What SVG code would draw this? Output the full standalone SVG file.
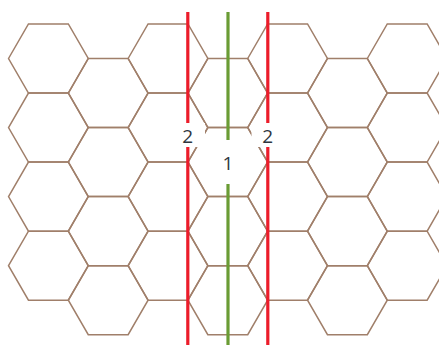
<svg xmlns="http://www.w3.org/2000/svg" xmlns:xlink="http://www.w3.org/1999/xlink" width="439" height="345" viewBox="0 0 439 345">
<style>
.hex{fill:none;stroke:#a07f6a;stroke-width:1.5;stroke-linejoin:miter}
.red{stroke:#ec1c2a;stroke-width:3.2;fill:none}
.green{stroke:#6a9c34;stroke-width:3.2;fill:none}
.halo{fill:#ffffff;stroke:none}
.lbl{font-family:"Open Sans","Noto Sans","DejaVu Sans",sans-serif;font-size:19px;fill:#2f3640;text-anchor:middle}
</style>
<defs>
<polygon id="hx" class="hex" points="-39.87,0 -19.94,-34.53 19.94,-34.53 39.87,0 19.94,34.53 -19.94,34.53"/>
</defs>
<rect width="439" height="345" fill="#ffffff"/>
<g id="grid">
<g id="col0">
<use href="#hx" x="48.4" y="58.5"/><use href="#hx" x="48.4" y="127.56"/><use href="#hx" x="48.4" y="196.62"/><use href="#hx" x="48.4" y="265.68"/>
</g>
<g id="col1">
<use href="#hx" x="108.2" y="93.03"/><use href="#hx" x="108.2" y="162.09"/><use href="#hx" x="108.2" y="231.15"/><use href="#hx" x="108.2" y="300.21"/>
</g>
<g id="col2">
<use href="#hx" x="168" y="58.5"/><use href="#hx" x="168" y="127.56"/><use href="#hx" x="168" y="196.62"/><use href="#hx" x="168" y="265.68"/>
</g>
<g id="col3">
<use href="#hx" x="227.8" y="93.03"/><use href="#hx" x="227.8" y="231.15"/><use href="#hx" x="227.8" y="300.21"/>
</g>
<g id="col4">
<use href="#hx" x="287.6" y="58.5"/><use href="#hx" x="287.6" y="127.56"/><use href="#hx" x="287.6" y="196.62"/><use href="#hx" x="287.6" y="265.68"/>
</g>
<g id="col5">
<use href="#hx" x="347.4" y="93.03"/><use href="#hx" x="347.4" y="162.09"/><use href="#hx" x="347.4" y="231.15"/><use href="#hx" x="347.4" y="300.21"/>
</g>
<g id="col6">
<use href="#hx" x="407.2" y="58.5"/><use href="#hx" x="407.2" y="127.56"/><use href="#hx" x="407.2" y="196.62"/><use href="#hx" x="407.2" y="265.68"/>
</g>
</g>
<g id="cell1">
<use href="#hx" x="227.8" y="162.09"/>
</g>
<g id="lines">
<line class="red" x1="187.8" y1="12" x2="187.8" y2="345"/>
<line class="green" x1="228" y1="12" x2="228" y2="345"/>
<line class="red" x1="267.8" y1="12" x2="267.8" y2="345"/>
</g>
<g id="label-2-left">
<rect class="halo" x="171" y="123" width="34" height="24"/>
<text class="lbl" x="187.8" y="143.3">2</text>
</g>
<g id="label-2-right">
<rect class="halo" x="251.5" y="123" width="33" height="24"/>
<text class="lbl" x="267.8" y="143.3">2</text>
</g>
<g id="label-1">
<rect class="halo" x="217" y="140" width="22" height="44"/>
<text class="lbl" x="228" y="169.5">1</text>
</g>
</svg>
